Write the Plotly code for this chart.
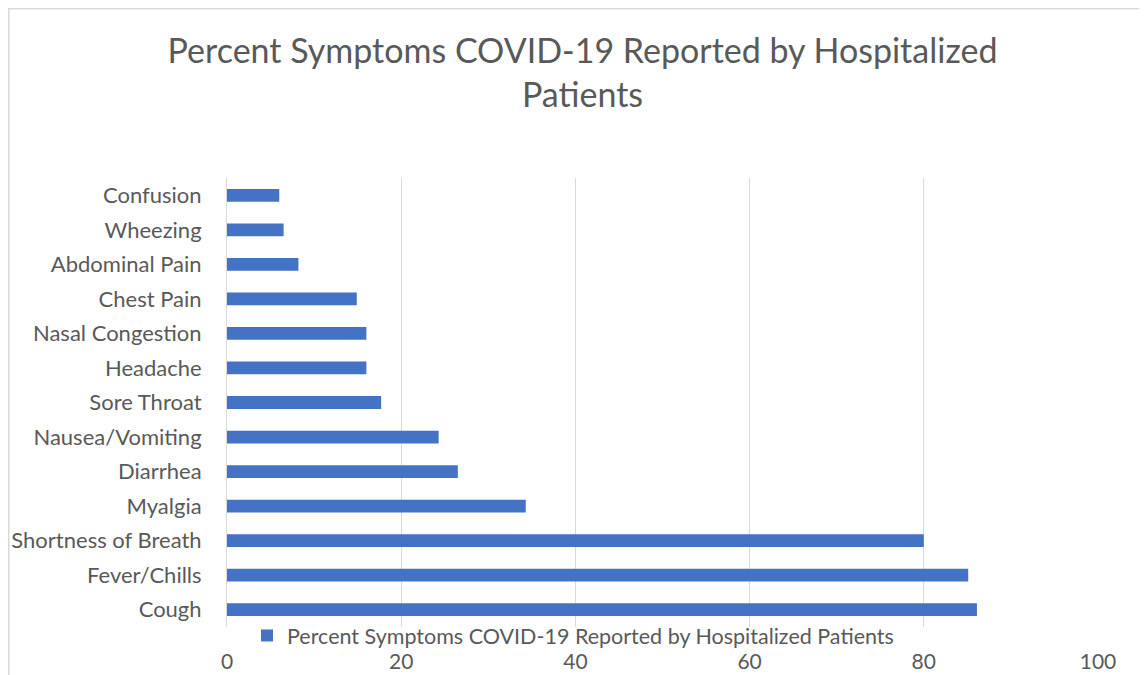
import plotly.graph_objects as go

symptoms = ["Cough", "Fever/Chills", "Shortness of Breath", "Myalgia", "Diarrhea",
            "Nausea/Vomiting", "Sore Throat", "Headache", "Nasal Congestion",
            "Chest Pain", "Abdominal Pain", "Wheezing", "Confusion"]
percents = [86.1, 85.1, 80.0, 34.3, 26.5, 24.3, 17.7, 16.0, 16.0, 14.9, 8.2, 6.5, 6.0]
x_ticks = [0, 20, 40, 60, 80, 100]
series_name = "Percent Symptoms COVID-19 Reported by Hospitalized Patients"
title_text = "Percent Symptoms COVID-19 Reported by Hospitalized<br>Patients"

W, H = 1147, 675
OFF = 8  # page body margin
# plot area in page pixels
PL, PR, PT, PB = 227, 1098, 178, 627
L, R, T, B = PL - OFF, PR - OFF, PT - OFF, PB - OFF

def px_x(p):  # page px -> paper
    return (p - OFF - L) / (R - L)

def px_y(p):
    return (B - (p - OFF)) / (B - T)

FONT = "Lato, 'Open Sans', sans-serif"
GREY = "#595959"

fig = go.Figure()
fig.add_trace(go.Bar(
    x=percents, y=symptoms, orientation="h", name=series_name,
    marker=dict(color="#4472C4", line=dict(width=0)),
    showlegend=True,
))

fig.update_layout(
    width=W, height=H,
    margin=dict(l=L, r=W - R, t=T, b=H - B, pad=0, autoexpand=False),
    paper_bgcolor="white", plot_bgcolor="white",
    bargap=0.63,
    font=dict(family=FONT, color=GREY, size=22),
    title=dict(text=title_text, x=(582.5 - OFF) / W, xanchor="center",
               y=1 - 55 / H, yanchor="middle",
               font=dict(family=FONT, size=34, color=GREY)),
    xaxis=dict(range=[0, 100], tickvals=x_ticks, showgrid=True, gridcolor="#d9d9d9",
               gridwidth=1, zeroline=False, showline=False, ticks="", automargin=False,
               ticklabelstandoff=20, tickfont=dict(size=21, color=GREY)),
    yaxis=dict(categoryorder="array", categoryarray=symptoms, showgrid=False,
               showline=True, linecolor="#d9d9d9", linewidth=1, ticks="", automargin=False,
               ticklabelstandoff=20, tickfont=dict(size=22, color=GREY)),
    legend=dict(orientation="h", x=px_x(247), xanchor="left", y=px_y(635.5), yanchor="middle",
                font=dict(size=21.5, color=GREY), bgcolor="rgba(0,0,0,0)",
                itemwidth=30, tracegroupgap=0),
    shapes=[dict(type="rect", xref="paper", yref="paper",
                 x0=px_x(OFF + 0.75), x1=px_x(1200), y0=px_y(720), y1=px_y(OFF + 0.75),
                 line=dict(color="#d9d9d9", width=1.5), fillcolor="rgba(0,0,0,0)")],
)

fig.write_html("out.html")
